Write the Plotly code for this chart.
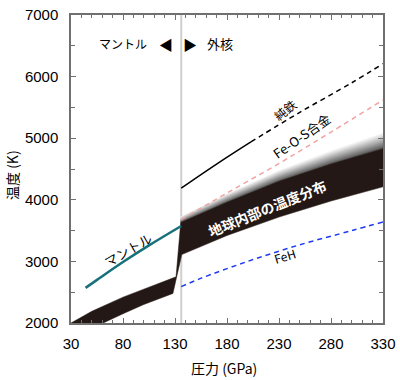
import plotly.graph_objects as go

# ---------------- data ----------------
mantle_p = [44, 55, 80, 105, 136]
mantle_T = [2570, 2700, 2990, 3260, 3575]

geo_upper_p = [30, 50, 80, 110, 131, 135.5, 180, 230, 280, 330]
geo_upper_T = [2000, 2190, 2420, 2620, 2750, 3630, 3960, 4300, 4580, 4830]
geo_lower_p = [61, 80, 100, 128, 136.5, 180, 230, 280, 330]
geo_lower_T = [2000, 2150, 2300, 2480, 3110, 3420, 3720, 3980, 4210]

# fuzzy (gradient) zone thickness above the core geotherm
fuzz_p = [135.5, 180, 230, 280, 330]
fuzz_top_T = [3630, 3960, 4300, 4580, 4830]
fuzz_width = [100, 140, 180, 220, 260]

iron_solid_p = [136, 170, 203]
iron_solid_T = [4190, 4580, 4940]
iron_dash_p = [203, 250, 300, 330]
iron_dash_T = [4940, 5420, 5900, 6210]

feos_p = [136, 180, 230, 280, 330]
feos_T = [3680, 4110, 4590, 5100, 5620]

feh_p = [136, 154, 200, 250, 300, 330]
feh_T = [2590, 2720, 3000, 3270, 3500, 3640]

cmb_p = 136

x_ticks = [30, 80, 130, 180, 230, 280, 330]
y_ticks = [2000, 3000, 4000, 5000, 6000, 7000]

JP = "Noto Sans CJK JP, Noto Sans, sans-serif"
NUM = "Liberation Sans, Arial, sans-serif"
BAND = "#231815"

fig = go.Figure()

# CMB line
fig.add_trace(go.Scatter(x=[cmb_p, cmb_p], y=[2000, 7000], mode="lines",
                         line=dict(color="#cfcfcf", width=2), hoverinfo="skip", showlegend=False))

# gradient layers above core geotherm (largest/lightest first, darker on top)
N = 14
for k in range(N - 1, -1, -1):
    hi = [t + w * (k + 1) / N for t, w in zip(fuzz_top_T, fuzz_width)]
    f = (k + 0.5) / N
    c = int(80 + (252 - 80) * f ** 0.9)
    fig.add_trace(go.Scatter(x=fuzz_p + fuzz_p[::-1], y=fuzz_top_T + hi[::-1], fill="toself",
                             mode="none", fillcolor=f"rgb({c},{c},{c})",
                             hoverinfo="skip", showlegend=False))

# geotherm band
fig.add_trace(go.Scatter(x=geo_upper_p + geo_lower_p[::-1],
                         y=geo_upper_T + geo_lower_T[::-1],
                         fill="toself", mode="lines", line=dict(color=BAND, width=0.5),
                         fillcolor=BAND, hoverinfo="skip", showlegend=False))

# melting curves
fig.add_trace(go.Scatter(x=iron_solid_p, y=iron_solid_T, mode="lines",
                         line=dict(color="black", width=1.5, shape="spline"), showlegend=False))
fig.add_trace(go.Scatter(x=iron_dash_p, y=iron_dash_T, mode="lines",
                         line=dict(color="black", width=1.5, dash="5px,4px", shape="spline"), showlegend=False))
fig.add_trace(go.Scatter(x=feos_p, y=feos_T, mode="lines",
                         line=dict(color="#f0a3a3", width=1.5, dash="5px,4px", shape="spline"), showlegend=False))
fig.add_trace(go.Scatter(x=feh_p, y=feh_T, mode="lines",
                         line=dict(color="#1f3cf0", width=1.5, dash="5px,4px", shape="spline"), showlegend=False))
fig.add_trace(go.Scatter(x=mantle_p, y=mantle_T, mode="lines",
                         line=dict(color="#17707a", width=2.5, shape="spline"), showlegend=False))

def ann(text, x, y, size=13, angle=0, color="black", bold=False, xanchor="center"):
    t = f"<b>{text}</b>" if bold else text
    fig.add_annotation(x=x, y=y, xref="x", yref="y", text=t, showarrow=False,
                       textangle=angle, xanchor=xanchor, yanchor="middle",
                       font=dict(family=JP, size=size, color=color))

ann("マントル", 80, 6530, size=12)
ann("◀", 121.5, 6530, size=14)
ann("▶", 144.5, 6530, size=14)
ann("外核", 173, 6530, size=13)
ann("純鉄", 236, 5460, size=12, angle=-38)
ann("Fe-O-S合金", 252, 5050, size=13, angle=-35)
ann("地球内部の温度分布", 218.5, 3870, size=14, angle=-22, color="white", bold=True)
ann("FeH", 236, 3088, size=12, angle=-17)
ann("マントル", 85, 3190, size=13, angle=-30)

# axis titles
fig.add_annotation(xref="x domain", yref="y domain", x=(12 - 71) / 312, y=(323 - 175) / 308,
                   xanchor="center", yanchor="middle",
                   text="温度 (K)", showarrow=False, textangle=-90,
                   font=dict(family=JP, size=14, color="black"))
fig.add_annotation(xref="x domain", yref="y domain", x=(224 - 71) / 312, y=(323 - 368) / 308,
                   xanchor="center", yanchor="middle",
                   text="圧力 (GPa)", showarrow=False, font=dict(family=JP, size=14, color="black"))

axis_common = dict(showgrid=False, zeroline=False, showline=True, linecolor="#707070",
                   linewidth=1.5, ticks="inside", ticklen=5, tickcolor="#707070",
                   mirror="ticks", automargin=False,
                   tickfont=dict(family=NUM, size=15, color="black"))

fig.update_xaxes(range=[30, 330], tickvals=x_ticks, ticklabelstandoff=6,
                 minor=dict(dtick=10, tick0=30, ticks="inside", ticklen=3, tickcolor="#707070"),
                 **axis_common)
fig.update_yaxes(range=[2000, 7000], tickvals=y_ticks, ticklabelstandoff=8,
                 minor=dict(dtick=500, tick0=2000, ticks="inside", ticklen=4, tickcolor="#707070"),
                 **axis_common)

fig.update_layout(width=400, height=380, margin=dict(l=71, r=17, t=15, b=57, autoexpand=False),
                  plot_bgcolor="white", paper_bgcolor="white", showlegend=False)

fig.write_html("out.html", config={"displayModeBar": False},
               post_script="document.body.style.margin='0';document.body.style.padding='0';document.body.style.overflow='hidden';")
